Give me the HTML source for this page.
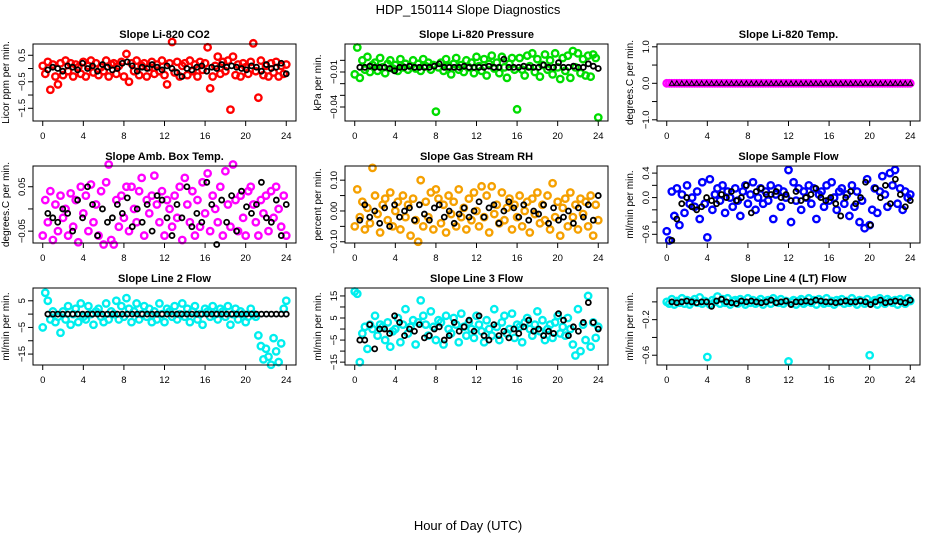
<!DOCTYPE html>
<html><head><meta charset="utf-8"><style>
body{margin:0;background:#fff;}
svg{display:block;font-family:"Liberation Sans",sans-serif;}
</style></head><body>
<svg id="chart" width="936" height="540" viewBox="0 0 936 540" xmlns="http://www.w3.org/2000/svg">
<rect width="936" height="540" fill="#fff"/>
<text x="468" y="14" text-anchor="middle" font-size="13">HDP_150114  Slope Diagnostics</text>
<text x="468" y="530" text-anchor="middle" font-size="13">Hour of Day (UTC)</text>
</svg>
<script>
const xTicks=[0,4,8,12,16,20,24];
const co2Color=[0.1,-0.2,0.25,-0.8,0.15,-0.3,-0.6,0.2,-0.25,0.3,-0.1,0.2,-0.3,0.15,0.05,-0.2,0.25,-0.3,0.1,0.3,-0.15,0.2,-0.25,0.05,-0.1,0.3,-0.3,0.15,0.2,-0.2,0.1,0.25,-0.3,0.55,-0.5,0.2,-0.1,0.3,-0.25,0.1,0.2,-0.3,0.05,0.25,-0.2,0.15,-0.1,0.3,-0.25,-0.6,0.2,1.0,-0.15,0.25,-0.3,0.1,0.2,-0.25,0.3,-0.1,0.15,-0.3,0.25,-0.05,0.2,0.8,-0.75,-0.3,0.1,0.45,-0.2,0.25,-0.1,0.3,-1.55,0.45,-0.25,0.15,-0.3,0.2,0.05,-0.2,0.25,0.95,-0.1,-1.1,0.3,-0.25,0.1,-0.3,0.2,-0.15,0.25,-0.3,0.1,-0.2,0.15];
const co2Black=[-0.05,0.05,0.0,-0.1,0.1,0.05,-0.05,0.2,0.0,0.1,-0.1,0.15,0.05,-0.05,0.0,0.2,0.25,0.1,-0.1,0.05,0.0,0.15,0.05,-0.05,0.1,0.0,-0.15,-0.3,0.0,-0.05,0.05,0.1,-0.1,0.05,0.0,0.15,0.05,0.1,0.05,0.0,-0.05,0.1,0.05,-0.1,0.15,0.0,0.05,0.2,-0.2];
const presColor=[-0.012,0.011,-0.015,0.0,-0.008,0.003,-0.01,-0.004,-0.002,-0.009,0.002,-0.006,-0.011,-0.003,0.0,-0.007,-0.004,-0.009,0.001,-0.006,-0.003,-0.008,-0.005,0.0,-0.007,-0.003,-0.009,0.001,-0.005,-0.002,-0.008,-0.004,-0.044,-0.006,-0.002,-0.009,0.001,-0.005,-0.012,-0.003,0.002,-0.008,-0.004,-0.01,0.0,-0.006,-0.002,-0.011,0.003,-0.005,-0.009,0.001,-0.013,-0.003,0.004,-0.007,-0.002,-0.011,0.003,-0.006,-0.015,-0.003,0.002,-0.008,-0.042,0.002,-0.008,-0.013,0.004,-0.005,0.006,-0.01,0.001,-0.014,-0.004,0.005,-0.008,0.0,-0.012,0.006,-0.006,-0.016,0.002,-0.009,0.004,-0.015,0.008,-0.006,0.006,-0.011,0.001,-0.013,0.004,-0.014,0.005,0.002,-0.049];
const presBlack=[-0.006,-0.006,-0.005,-0.006,-0.006,-0.006,-0.007,-0.009,-0.006,-0.006,-0.005,-0.006,-0.006,-0.006,-0.006,-0.005,-0.003,-0.006,-0.006,-0.006,-0.006,-0.005,-0.006,-0.006,-0.006,-0.006,-0.005,-0.006,-0.006,0.001,-0.006,-0.006,-0.006,-0.005,-0.006,-0.006,-0.006,-0.004,-0.006,-0.006,-0.002,-0.006,-0.006,-0.005,-0.006,-0.006,-0.003,-0.005,-0.007];
const tempColor=new Array(97).fill(0);
const tempBlack=new Array(49).fill(0);
const boxColor=[-0.06,0.02,-0.03,0.04,-0.07,0.01,-0.05,0.03,-0.02,0.0,-0.06,0.035,-0.04,0.02,-0.075,0.05,-0.01,0.03,-0.05,0.055,-0.03,0.01,-0.06,0.04,-0.08,0.06,0.1,-0.07,-0.08,0.02,-0.04,0.03,-0.02,0.05,-0.05,0.05,0.0,-0.03,0.04,0.07,-0.06,0.02,-0.01,0.03,0.075,0.01,-0.03,0.04,-0.06,0.02,0.0,-0.04,0.03,-0.02,0.05,-0.07,0.07,0.01,-0.03,0.04,-0.06,0.02,-0.04,0.06,-0.01,0.08,-0.05,0.03,0.0,-0.03,0.05,-0.06,0.085,0.01,-0.04,0.1,0.02,-0.05,0.03,-0.02,-0.06,0.04,0.05,0.01,-0.03,-0.06,0.02,-0.01,0.03,-0.05,0.04,-0.02,0.05,0.0,-0.04,0.03,-0.06];
const boxBlack=[-0.01,-0.02,-0.03,0.0,-0.01,-0.05,0.02,-0.02,0.05,0.01,-0.06,0.0,-0.03,-0.02,0.01,-0.01,0.025,-0.04,0.0,-0.03,0.01,-0.05,0.03,0.02,-0.02,-0.06,0.01,-0.02,0.05,-0.04,-0.01,-0.03,0.06,0.01,-0.08,0.02,-0.03,0.03,-0.05,0.04,0.005,-0.01,0.01,0.06,-0.02,-0.03,0.02,-0.06,0.01];
const rhColor=[-0.05,0.07,-0.02,0.03,-0.06,0.01,-0.04,0.14,0.05,-0.01,-0.07,0.02,0.04,-0.03,0.06,-0.05,0.0,0.03,-0.06,0.05,-0.02,0.02,-0.08,0.04,-0.03,-0.1,0.1,-0.05,0.03,-0.02,0.06,-0.06,0.07,0.04,-0.04,0.02,-0.07,0.05,-0.01,0.03,-0.05,0.07,-0.02,0.01,-0.06,0.04,-0.03,0.06,0.0,-0.05,0.08,-0.02,0.05,-0.07,0.08,-0.01,0.02,-0.04,0.06,-0.03,0.01,0.04,-0.06,0.02,-0.02,0.05,-0.05,0.0,0.03,-0.07,0.04,-0.01,0.06,-0.04,0.02,-0.03,0.05,-0.06,0.09,-0.02,0.03,-0.08,0.01,0.04,-0.05,0.06,-0.02,0.02,-0.06,0.04,-0.01,0.03,-0.05,0.05,-0.08,0.02,-0.03];
const rhBlack=[-0.03,0.02,-0.02,0.0,-0.04,0.01,-0.05,0.02,-0.02,0.0,0.01,-0.03,0.02,-0.01,-0.03,0.01,0.02,-0.02,0.0,-0.04,-0.01,0.01,-0.02,0.0,0.03,-0.02,0.01,0.02,-0.04,0.0,0.03,0.01,-0.02,0.02,-0.03,0.0,-0.01,0.02,-0.04,0.01,-0.03,-0.02,0.0,-0.04,0.01,-0.02,0.02,-0.03,0.05];
const flowColor=[-0.55,-0.7,0.1,-0.3,0.15,-0.45,0.05,-0.25,0.2,-0.1,0.0,-0.15,0.1,-0.35,0.25,-0.1,-0.65,0.3,-0.2,0.05,0.15,-0.05,0.2,-0.25,0.1,0.0,-0.15,0.15,-0.05,-0.3,0.1,0.2,-0.1,0.05,0.25,-0.2,0.0,0.15,-0.1,0.1,-0.05,0.2,-0.35,0.05,0.15,-0.15,0.1,0.0,0.45,-0.4,0.25,-0.05,0.15,-0.2,0.1,0.0,0.2,-0.1,0.15,-0.35,0.05,0.1,-0.15,0.2,-0.05,0.25,0.0,-0.2,0.1,0.15,-0.1,0.05,-0.3,0.2,-0.15,0.1,-0.4,-0.05,-0.5,0.3,-0.45,-0.2,0.15,-0.25,0.1,0.35,0.05,-0.15,0.4,0.2,0.45,-0.1,0.15,-0.2,0.1,0.0,0.05];
const flowBlack=[-0.7,-0.35,-0.1,0.0,-0.15,-0.2,-0.15,0.0,-0.05,-0.1,0.05,0.0,0.1,-0.05,0.0,0.2,-0.25,0.1,0.15,0.05,0.05,0.1,0.0,0.05,-0.05,0.1,-0.05,0.0,0.05,0.15,0.0,-0.05,0.0,-0.1,-0.3,0.0,0.1,-0.1,0.0,0.25,-0.45,0.15,0.0,0.2,-0.1,0.3,0.05,-0.15,-0.05];
const line2Color=[-5,8,5,-2,1,-3,-1,-7,1,-2,3,-4,0,2,-3,4,-1,-2,3,0,-4,1,2,-1,-3,4,-2,1,0,5,-2,3,-1,6,2,-3,1,4,-2,0,3,-1,2,-3,1,-2,4,0,-3,2,1,-1,3,-2,0,4,-1,2,-3,1,3,-2,0,-4,2,1,-1,3,0,-2,2,1,-1,3,-4,0,2,-2,1,0,-3,-1,2,0,-1,-8,-12,-17,-13,-16,-19,-9,-14,-18,-11,2,5];
const line2Black=[0,0,0,0,0,0,0,0,0,0,0,0,0,0,0,0,0,0,0,0,0,0,0,0,0,0,0,0,0,0,0,0,0,0,0,0,0,0,0,0,0,0,0,0,0,0,0,0,0];
const line3Color=[17,16,-15,-2,1,-9,2,0,6,-3,2,1,-5,3,-8,-1,0,5,-6,2,9,-2,1,4,-7,3,13,6,2,-3,8,1,-5,4,3,-7,6,0,-2,5,2,-6,7,1,-3,3,0,-4,6,2,-1,-6,4,0,-3,9,1,-5,3,6,-2,0,7,-4,2,1,-6,3,5,0,-3,2,8,-1,4,-5,0,2,-4,3,6,-2,1,-3,5,0,-7,-12,9,-10,2,-5,15,-8,3,-4,1];
const line3Black=[-5,-5,2,-9,0,0,-2,6,3,-3,0,-1,2,-4,-3,0,1,-5,-3,3,-1,1,4,-1,6,-3,-5,2,-3,-1,-4,0,-2,1,4,-1,0,-3,-1,-2,7,4,-3,1,-1,3,12,3,0];
const line4Color=[0.0,-0.02,0.03,-0.03,0.01,-0.01,0.04,-0.02,0.02,-0.03,0.0,0.03,-0.01,0.05,-0.02,0.01,-0.62,-0.03,0.02,0.0,0.06,-0.02,0.03,-0.01,0.04,-0.03,0.01,0.02,-0.02,0.03,0.0,-0.03,0.04,-0.01,0.02,-0.02,0.0,0.03,-0.03,0.01,0.02,-0.02,0.04,0.0,-0.01,0.03,-0.02,0.01,-0.67,0.0,0.02,-0.03,0.01,0.03,-0.02,0.0,0.04,-0.01,0.02,-0.03,0.03,0.0,-0.02,0.04,-0.01,0.01,-0.03,0.02,0.0,0.03,-0.02,0.01,-0.01,0.04,0.0,-0.03,0.02,0.01,-0.02,0.03,-0.6,0.0,0.02,-0.03,0.04,0.0,-0.02,0.03,0.01,-0.01,0.02,-0.03,0.03,0.0,-0.02,0.04,0.01];
const line4Black=[0.0,-0.01,0.0,0.01,0.0,-0.01,0.0,0.0,-0.05,0.01,0.03,0.0,-0.01,-0.02,0.01,0.0,0.01,0.0,-0.01,0.0,0.02,-0.01,0.0,0.01,-0.03,0.0,0.0,0.01,0.0,0.02,0.01,0.0,0.0,-0.01,0.0,0.01,0.0,0.0,0.01,0.0,-0.03,0.0,0.02,-0.01,0.0,0.01,0.0,-0.01,0.02];

const NS='http://www.w3.org/2000/svg';
const svg=document.getElementById('chart');
function mk(tag,attrs,parent){const e=document.createElementNS(NS,tag);for(const k in attrs)e.setAttribute(k,attrs[k]);(parent||svg).appendChild(e);return e;}

const panels=[
 {key:'li820-co2',title:'Slope Li-820 CO2',ylab:'Licor ppm per min.',col:0,row:0,ymin:-1.98,ymax:0.925,ticks:[-1.5,-1,-0.5,0,0.5],labels:{'0.5':'0.5','-0.5':'−0.5','-1.5':'−1.5'},c:co2Color,b:co2Black,color:'#ff0000'},
 {key:'li820-pressure',title:'Slope Li-820 Pressure',ylab:'kPa per min.',col:1,row:0,ymin:-0.052,ymax:0.014,ticks:[-0.04,-0.03,-0.02,-0.01,0],labels:{'-0.01':'−0.01','-0.04':'−0.04'},c:presColor,b:presBlack,color:'#00dd00'},
 {key:'li820-temp',title:'Slope Li-820 Temp.',ylab:'degrees.C per min.',col:2,row:0,ymin:-1.033,ymax:1.077,ticks:[-1,-0.5,0,0.5,1],labels:{'1':'1.0','0':'0.0','-1':'−1.0'},c:tempColor,b:tempBlack,color:'#ff00ff',tri:true},
 {key:'amb-box-temp',title:'Slope Amb. Box Temp.',ylab:'degrees.C per min.',col:0,row:1,ymin:-0.0767,ymax:0.0967,ticks:[-0.05,0,0.05],labels:{'0.05':'0.05','-0.05':'−0.05'},c:boxColor,b:boxBlack,color:'#ff00ff'},
 {key:'gas-stream-rh',title:'Slope Gas Stream RH',ylab:'percent per min.',col:1,row:1,ymin:-0.104,ymax:0.146,ticks:[-0.1,-0.05,0,0.05,0.1],labels:{'0.1':'0.10','0':'0.00','-0.1':'−0.10'},c:rhColor,b:rhBlack,color:'#f5a000'},
 {key:'sample-flow',title:'Slope Sample Flow',ylab:'ml/min per min.',col:2,row:1,ymin:-0.742,ymax:0.516,ticks:[-0.6,-0.4,-0.2,0,0.2,0.4],labels:{'0.4':'0.4','0':'0.0','-0.6':'−0.6'},c:flowColor,b:flowBlack,color:'#0000ff'},
 {key:'line2-flow',title:'Slope Line 2 Flow',ylab:'ml/min per min.',col:0,row:2,ymin:-19.1,ymax:9.8,ticks:[-15,-10,-5,0,5],labels:{'5':'5','-5':'−5','-15':'−15'},c:line2Color,b:line2Black,color:'#00eeee'},
 {key:'line3-flow',title:'Slope Line 3 Flow',ylab:'ml/min per min.',col:1,row:2,ymin:-16.3,ymax:18.6,ticks:[-15,-10,-5,0,5,10,15],labels:{'15':'15','5':'5','-5':'−5','-15':'−15'},c:line3Color,b:line3Black,color:'#00eeee'},
 {key:'line4-flow',title:'Slope Line 4 (LT) Flow',ylab:'ml/min per min.',col:2,row:2,ymin:-0.71,ymax:0.156,ticks:[-0.6,-0.4,-0.2,0],labels:{'-0.2':'−0.2','-0.6':'−0.6'},c:line4Color,b:line4Black,color:'#00eeee'}
];
const colX=[33,345,657], rowY=[44,166,288], W=263, H=77;

panels.forEach(p=>{
 const x0=colX[p.col], y0=rowY[p.row];
 const g=mk('g',{});
 
 
 const xs=v=>x0+(v+0.96)/25.92*W;
 const ys=v=>y0+H-(v-p.ymin)/(p.ymax-p.ymin)*H;
 const t=mk('text',{x:x0+W/2,y:y0-6,'text-anchor':'middle','font-size':11,'font-weight':'bold'},g);
 t.textContent=p.title;
 
 
 const yl=mk('text',{transform:`translate(${x0-24},${y0+H/2}) rotate(-90)`,'text-anchor':'middle','font-size':10},g);
 yl.textContent=p.ylab;
 
 
 mk('line',{x1:xs(0),x2:xs(24),y1:y0+H,y2:y0+H,stroke:'#000'},g);
 xTicks.forEach(v=>{
  mk('line',{x1:xs(v),x2:xs(v),y1:y0+H,y2:y0+H+5,stroke:'#000'},g);
  const l=mk('text',{x:xs(v),y:y0+H+18,'text-anchor':'middle','font-size':9.5},g);
  l.textContent=v;
  
  
 });
 const tk=p.ticks;
 mk('line',{x1:x0,x2:x0,y1:ys(tk[0]),y2:ys(tk[tk.length-1]),stroke:'#000'},g);
 tk.forEach(v=>{
  mk('line',{x1:x0-5,x2:x0,y1:ys(v),y2:ys(v),stroke:'#000'},g);
  const lab=p.labels[String(v)];
  if(lab){
   const l=mk('text',{transform:`translate(${x0-8},${ys(v)}) rotate(-90)`,'text-anchor':'middle','font-size':9.5},g);
   l.textContent=lab;
   
   
  }
 });
 const cn=p.c.length;
 p.c.forEach((v,i)=>{
  const c=mk('circle',{cx:xs(24*i/(cn-1)),cy:ys(v),r:3.2,fill:'none',stroke:p.color,'stroke-width':2.4},g);
  
  
 });
 const bn=p.b.length;
 p.b.forEach((v,i)=>{
  const x=xs(0.5+23.5*i/(bn-1)), y=ys(v);
  let m;
  if(p.tri){m=mk('path',{d:`M${x-2.5},${y+2} L${x+2.5},${y+2} L${x},${y-2.5} Z`,fill:'none',stroke:'#000','stroke-width':1},g);}
  else{m=mk('circle',{cx:x,cy:y,r:2.5,fill:'none',stroke:'#000','stroke-width':1.8},g);}
  
  
 });
 mk('rect',{x:x0,y:y0,width:W,height:H,fill:'none',stroke:'#000'},g);
});
</script>
</body></html>
